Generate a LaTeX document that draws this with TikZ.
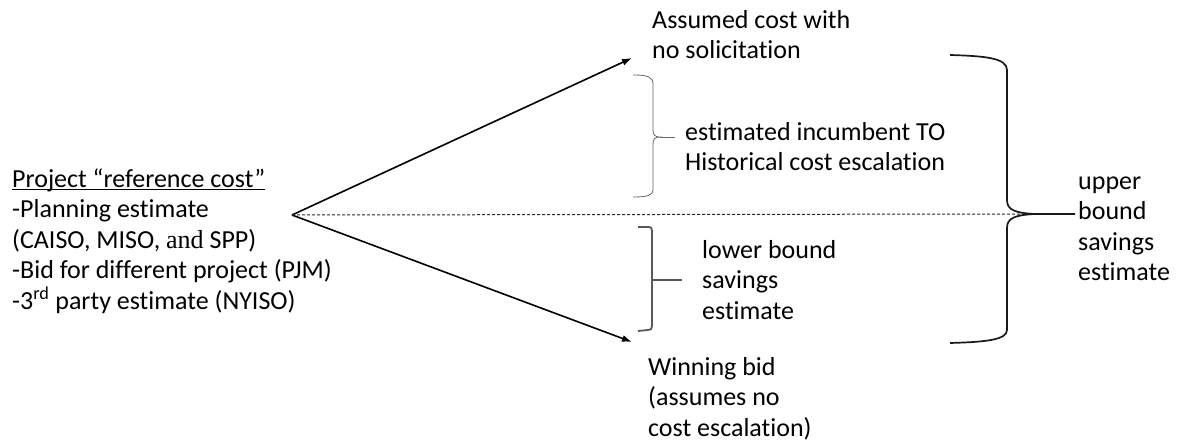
\documentclass[tikz,border=0pt]{standalone}
\usepackage{fontspec}
\setmainfont{Carlito}[Ligatures=NoCommon]
\newfontfamily\serifand{Liberation Serif}
\usetikzlibrary{arrows.meta}
\newcommand\myul[1]{\setbox0\hbox{#1}\rlap{\rule[-3pt]{\wd0}{1.2pt}}\box0}
\begin{document}
\begin{tikzpicture}[x=1pt,y=-1pt,
  lbl/.style={anchor=base west, inner sep=0pt, align=left, font=\fontsize{26}{30.5}\selectfont},
  arr/.style={line width=1.6pt, -{Latex[length=10pt,width=7pt]}},
  dashline/.style={line width=1pt, draw=black!85, dash pattern=on 3pt off 2pt},
  brU/.style={line width=0.8pt, draw=black!60},
  brL/.style={line width=1.8pt, draw=black!65},
  brB/.style={line width=1.7pt, draw=black!90}
]
\useasboundingbox (0,0) rectangle (1179,441);

\coordinate (apex) at (292,215);
\coordinate (tipA) at (632,58);
\coordinate (tipW) at (632,342);
\coordinate (dashend) at (1027,214);

% multi-line nodes: the base anchor is the baseline of the last line
\node[lbl] (ref) at (12,309) {\myul{Project “reference cost”}\\-Planning estimate\\(CAISO, MISO, {\serifand and} SPP)\\-Bid for different project (PJM)\\-3\textsuperscript{rd} party estimate (NYISO)};
\node[lbl] (assumed) at (652,59) {Assumed cost with\\no solicitation};
\node[lbl] (incumb) at (685,171) {estimated incumbent TO\\Historical cost escalation};
\node[lbl] (lower) at (702,319) {lower bound\\savings\\estimate};
\node[lbl] (winning) at (648,436) {Winning bid\\(assumes no\\cost escalation)};
\node[lbl] (upper) at (1078,280.5) {upper\\bound\\savings\\estimate};

\draw[arr] (apex) -- (tipA);
\draw[arr] (apex) -- (tipW);
\draw[dashline] (apex) -- (dashend);

% upper small bracket
\draw[brU] (633,75) .. controls (648,75) and (653,77) .. (653,84) -- (653,130)
  .. controls (653,135) and (655,137) .. (660,137)
  .. controls (655,137) and (653,139) .. (653,144) -- (653,190)
  .. controls (653,195) and (648,197) .. (633,197);
\draw[brU] (660,137) -- (675,137);

% lower small bracket
\draw[brL] (638,227) -- (649,227) .. controls (651,227) and (652,228) .. (652,231) -- (652,326)
  .. controls (652,329) and (651,330) .. (648,330) -- (638,331);
\draw[brL] (652,280) -- (682,280);

% big bracket
\draw[brB] (950,55) .. controls (985,56) and (1007,58) .. (1007,70) -- (1007,200)
  .. controls (1007,210) and (1015,213) .. (1035,214) -- (1075,214);
\draw[brB] (1035,214) .. controls (1015,215) and (1007,218) .. (1007,228) -- (1007,330)
  .. controls (1007,340) and (985,342) .. (950,343);
\end{tikzpicture}
\end{document}
